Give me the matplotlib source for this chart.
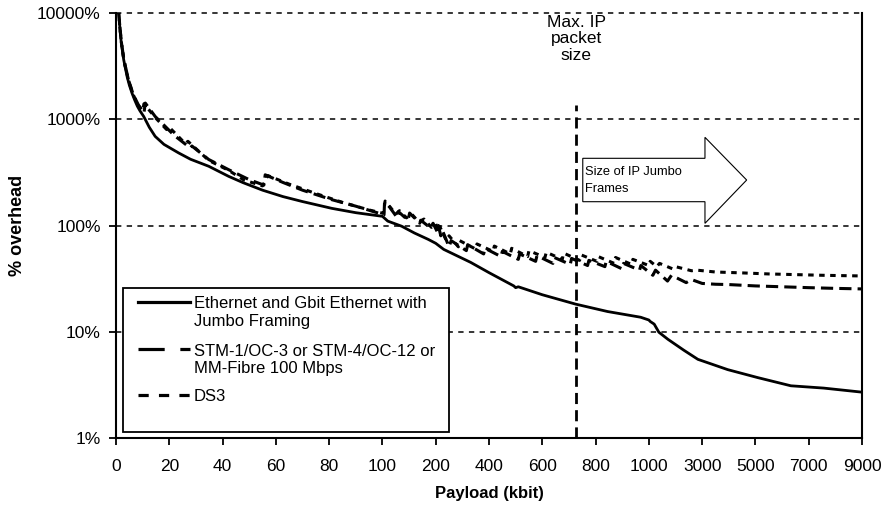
import numpy as np
import matplotlib
matplotlib.use('Agg')
from matplotlib import pyplot as plt
from matplotlib.patches import Polygon, Rectangle
from matplotlib.lines import Line2D

plt.rcParams['font.family'] = ['Liberation Sans', 'DejaVu Sans']

# payload (kbit) and overhead (%) for each link type
eth_x = [0.9, 1.5, 2, 2.9, 3.5, 4.2, 5, 6, 7, 8, 9, 10.4, 12.5, 14.7, 18, 23.5, 28, 34.8, 42.3, 47.7, 55, 62.7,
         70, 81, 90, 100, 110, 136, 160, 186, 200, 230, 331, 400, 493, 500, 510, 600, 725, 845, 969, 1000,
         1050, 1200, 1375, 1713, 2313, 2840, 3960, 5090, 6330, 7560, 9000]
eth_y = [11000, 7000, 5200, 3620, 3050, 2500, 2100, 1763, 1520, 1330, 1200, 1062, 840, 690, 580, 482, 420, 361, 290, 253, 215, 187,
         168, 145, 132, 122, 110, 98.5, 85, 74, 68, 59.6, 45, 36, 27, 26, 26.5, 22.3, 18.2, 15.5, 13.7, 12.9,
         12.5, 11.8, 9.9, 8.5, 6.7, 5.5, 4.4, 3.7, 3.1, 2.95, 2.7]

stm_x = [0.9, 1.5, 2, 2.9, 3.5, 4.8, 6.5, 8.5, 10.5, 11, 14.7, 18, 21, 22, 27.9, 28.5, 34.8, 42.3, 50, 55.5, 56, 62.7,
         70, 81, 90, 98, 103, 104, 113, 128, 130, 148, 151, 170, 172, 190, 195, 205, 210, 219, 225, 250, 258,
         315, 320, 380, 385, 445, 450, 510, 515, 575, 580, 640, 645, 705, 710, 770, 775, 835, 840,
         900, 905, 965, 970, 1150, 1250, 1700, 1850, 2400, 2600, 3000, 3500, 4000, 5000, 6000,
         7000, 8000, 9000]
stm_y = [11000, 7200, 5400, 3720, 3150, 2300, 1700, 1350, 1150, 1420, 1062, 880, 740, 700, 536, 560, 418, 335, 270, 240, 300, 254,
         215, 175, 152, 132, 126, 166, 150, 118, 135, 112, 131, 105, 112, 95, 105, 88, 100, 80, 90, 63, 72,
         58, 66, 54, 61, 51, 57, 48, 54, 46, 52, 44, 50, 43, 49, 42, 47, 41, 46,
         39, 44, 38, 42, 34, 38, 30, 34, 29, 31, 28.5, 28, 27.8, 27, 26.5,
         26, 25.6, 25.3]

ds3_x = [0.9, 1.5, 2, 2.9, 3.5, 4.8, 6.5, 8.5, 10, 10.5, 14.7, 19, 20, 26, 27, 34.8, 42.3, 48, 55, 57, 65, 75, 85, 95,
         102, 105, 115, 125, 132, 145, 155, 168, 178, 192, 200, 210, 215, 240, 250,
         285, 290, 350, 355, 415, 420, 480, 485, 545, 550, 610, 615, 675, 680, 740, 745,
         805, 810, 870, 875, 935, 940, 1000, 1050, 1300, 1400, 1900, 2000, 2600, 2800,
         3500, 4500, 5500, 6500, 7500, 9000]
ds3_y = [11000, 7150, 5350, 3700, 3120, 2280, 1690, 1340, 1200, 1400, 1040, 800, 840, 590, 620, 410, 330, 268, 236, 295, 245, 200, 165, 140,
         130, 170, 148, 128, 138, 118, 128, 108, 115, 96, 104, 88, 98, 72, 80,
         63, 72, 60, 67, 57, 64, 54, 61, 51, 58, 50, 56, 48, 55, 47, 53,
         46, 51, 44, 50, 43, 48, 42, 46, 41, 44, 39, 41, 37.5, 38,
         36.5, 35.8, 35, 34.5, 34, 33.5]

x_ticks = [0, 20, 40, 60, 80, 100, 200, 400, 600, 800, 1000, 3000, 5000, 7000, 9000]
y_ticks = [1, 10, 100, 1000, 10000]
max_ip = 728

# piecewise payload axis: every tick gets the same width
brk = [0, 100, 200, 1000, 9000]
pos = [0, 5, 6, 10, 14]

def fwd(v):
    return np.interp(v, brk, pos)

def inv(p):
    return np.interp(p, pos, brk)

fig = plt.figure(figsize=(8.85, 5.11), dpi=100)
ax = fig.add_axes([116/885, 1-438/511, 746/885, 425/511])
ax.set_xscale('function', functions=(fwd, inv))
ax.set_yscale('log')
ax.set_xlim(0, 9000)
ax.set_ylim(1, 10000)

for g in [10, 100, 1000, 10000]:
    ax.axhline(g, color='black', lw=1.1, ls=(0, (3.5, 3.5)), clip_on=False, zorder=1)

stm_ls = (0, (4, 2))
ds3_ls = (0, (1.8, 1.8))
ax.plot(eth_x, eth_y, color='black', lw=2, zorder=3)
ax.plot(stm_x, stm_y, color='black', lw=2.2, ls=stm_ls, zorder=3)
ax.plot(ds3_x, ds3_y, color='black', lw=2.2, ls=ds3_ls, zorder=3)

ax.axvline(max_ip, ymax=0.784, color='black', lw=2, ls=(0, (4, 2.2)), zorder=2)
ax.text(max_ip, 5740, 'Max. IP\npacket\nsize', ha='center', va='center', fontsize=12.5, linespacing=1.12)

# block arrow for the jumbo frame range
arrow = Polygon([(0.6257, 0.5560), (0.6257, 0.6581), (0.7895, 0.6581), (0.7895, 0.7075),
                 (0.8454, 0.607), (0.7895, 0.5051), (0.7895, 0.5560)],
                closed=True, transform=ax.transAxes, facecolor='white', edgecolor='black', lw=0.8, zorder=4)
ax.add_patch(arrow)
ax.text(0.6287, 0.607, 'Size of IP Jumbo\nFrames', transform=ax.transAxes, ha='left', va='center',
        fontsize=9.3, linespacing=1.55, zorder=5)

# legend box, handles sit on the first line of each label
ax.add_patch(Rectangle((0.0094, 0.0141), 0.437, 0.339, transform=ax.transAxes, facecolor='white',
                       edgecolor='black', lw=1.3, zorder=4))
leg_rows = [
    (0.3207, 'Ethernet and Gbit Ethernet with\nJumbo Framing', '-'),
    (0.2087, 'STM-1/OC-3 or STM-4/OC-12 or\nMM-Fibre 100 Mbps', (0, (8.2, 4.9))),
    (0.1012, 'DS3', (0, (3.2, 3.2))),
]
for yy, lab, ls in leg_rows:
    ax.add_line(Line2D([0.0295, 0.0992], [yy, yy], transform=ax.transAxes, color='black', lw=2.3,
                       ls=ls, zorder=5))
    ax.text(0.1046, yy + 0.0135, lab, transform=ax.transAxes, ha='left', va='top', fontsize=12,
            linespacing=1.22, zorder=5)

ax.set_xticks(x_ticks)
ax.set_xticklabels([str(t) for t in x_ticks])
ax.set_yticks(y_ticks)
ax.set_yticklabels(['%d%%' % t for t in y_ticks])
ax.minorticks_off()
ax.tick_params(axis='both', labelsize=12.5, direction='out', length=5, width=1.3, color='black')
ax.tick_params(axis='x', pad=10)
ax.tick_params(axis='y', pad=6)
ax.spines['top'].set_visible(False)
for s in ['left', 'bottom', 'right']:
    ax.spines[s].set_linewidth(1.5)

ax.set_xlabel('Payload (kbit)', fontsize=12, fontweight='bold', labelpad=9)
ax.set_ylabel('% overhead', fontsize=13, fontweight='bold', labelpad=8)

fig.savefig('out.png', dpi=100)
